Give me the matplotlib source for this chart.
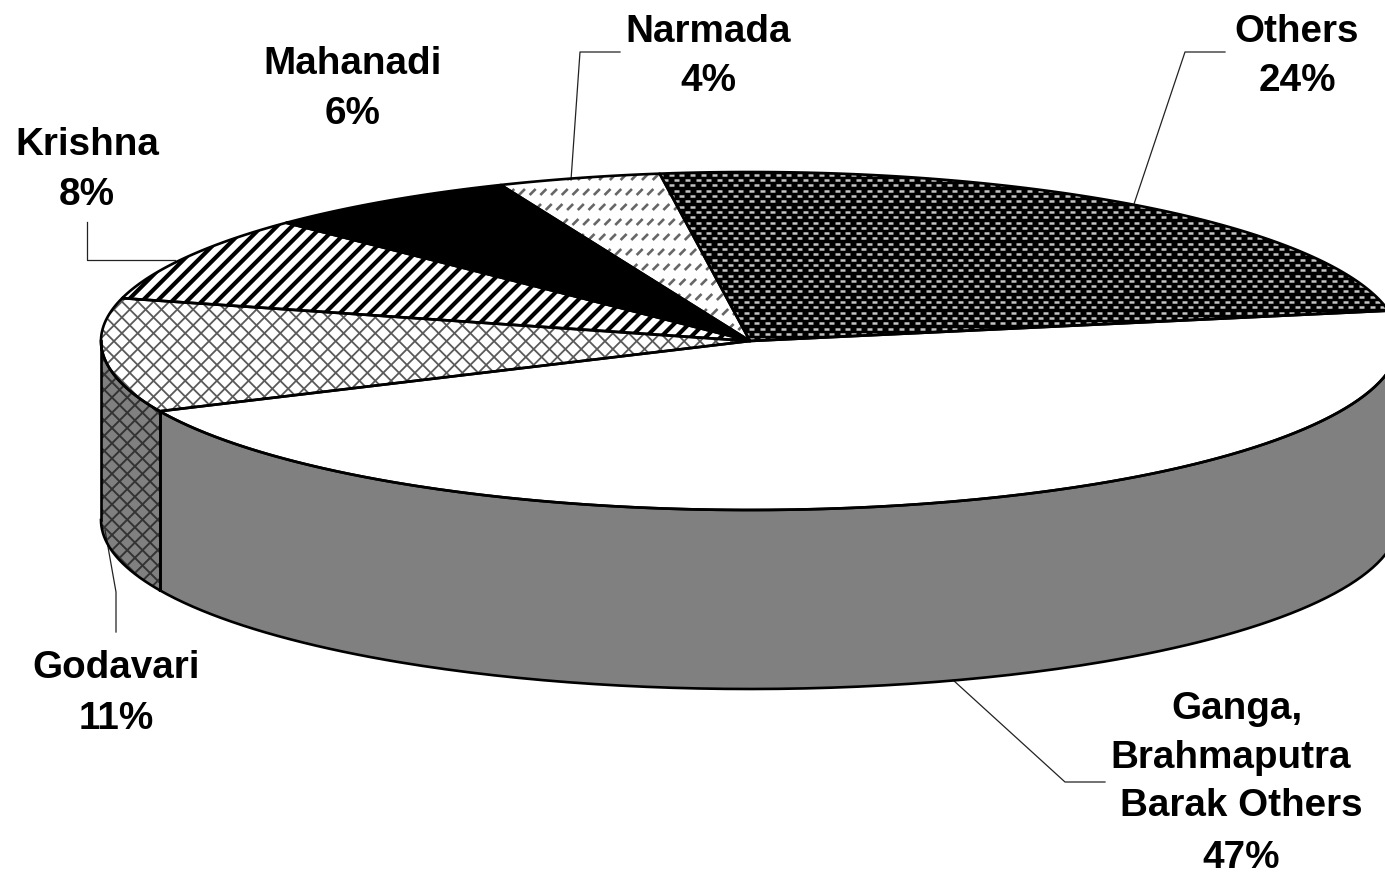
import numpy as np
import matplotlib
matplotlib.use('Agg')
import matplotlib.pyplot as plt
from matplotlib.collections import LineCollection
from matplotlib.patches import Polygon

plt.rcParams['font.family'] = ['Liberation Sans', 'DejaVu Sans']

# data, clockwise from the top of the pie
basins = ['Others', 'Ganga,\nBrahmaputra\n Barak Others', 'Godavari', 'Krishna', 'Mahanadi', 'Narmada']
labels = ['24%', '47%', '11%', '8%', '6%', '4%']
# slice shares as they are drawn in the picture
shares = [24.35, 46.05, 10.9, 8.25, 6.4, 4.05]
start_angle = 98.0

# layout in pixels
cx, cy, rx, ry = 750, 341, 649, 169
depth = 179
GREY = '#808080'

fig = plt.figure(figsize=(13.85, 8.72), dpi=100, facecolor='w')
ax = fig.add_axes([0, 0, 1, 1])
ax.set_xlim(0, 1385)
ax.set_ylim(872, 0)
ax.axis('off')


def rim(t0, t1, drop=0):
    t = np.radians(np.linspace(t0, t1, 200))
    return np.column_stack([cx + rx * np.cos(t), cy - ry * np.sin(t) + drop])


def line_hatch(patch, angle, spacing, lw, color):
    # parallel lines across the whole picture, clipped to the patch
    a = np.radians(angle)
    d = np.array([np.cos(a), -np.sin(a)])
    n = np.array([np.sin(a), np.cos(a)])
    segs = []
    for s in np.arange(-1800, 1800, spacing):
        p = np.array([700, 400]) + n * s
        segs.append([p - d * 1800, p + d * 1800])
    lc = LineCollection(segs, colors=color, linewidths=lw, zorder=2)
    ax.add_collection(lc)
    lc.set_clip_path(patch)


def dash_hatch(patch, dx, dy, run, rise, lw, color):
    # rows of short dashes, every other row shifted
    segs = []
    for j, y in enumerate(np.arange(0, 872, dy)):
        for x in np.arange(0, 1385, dx):
            x0 = x + (dx / 2 if j % 2 else 0)
            segs.append([(x0, y), (x0 + run, y - rise)])
    lc = LineCollection(segs, colors=color, linewidths=lw, capstyle='butt', zorder=2)
    ax.add_collection(lc)
    lc.set_clip_path(patch)


# slice angles from the shares
edges = start_angle - np.cumsum([0] + shares) * 3.6

fills = ['k', 'w', 'w', 'w', 'k', 'w']

# side wall, only the front half of the pie shows it
for i in range(len(shares)):
    t0, t1 = edges[i], edges[i + 1]
    lo, hi = max(t1, -180), min(t0, 0)
    if lo >= hi:
        continue
    top = rim(hi, lo)
    wall = np.vstack([top, rim(lo, hi, depth)])
    side = Polygon(wall, closed=True, fc=GREY, ec='none', zorder=1)
    ax.add_patch(side)
    if basins[i] == 'Godavari':
        line_hatch(side, 45, 10.8, 1.4, '#333333')
        line_hatch(side, -45, 10.8, 1.4, '#333333')
    ax.plot(*top.T, color='k', lw=1.9, zorder=3)
    ax.plot(*rim(lo, hi, depth).T, color='k', lw=1.9, zorder=3)
    for t in (lo, hi):
        p = rim(t, t)[0]
        ax.plot([p[0], p[0]], [p[1], p[1] + depth], color='k', lw=1.9, zorder=3)

# top face
for i in range(len(shares)):
    t0, t1 = edges[i], edges[i + 1]
    verts = np.vstack([[cx, cy], rim(t0, t1)])
    wedge = Polygon(verts, closed=True, fc=fills[i], ec='none', zorder=1)
    ax.add_patch(wedge)
    if basins[i] == 'Others':
        dash_hatch(wedge, 10.7, 5.3, 5, 0, 1.8, '#c4c4c4')
    elif basins[i] == 'Godavari':
        line_hatch(wedge, 45, 11.2, 1.3, '#5a5a5a')
        line_hatch(wedge, -45, 11.2, 1.3, '#5a5a5a')
    elif basins[i] == 'Krishna':
        line_hatch(wedge, 45, 10.6, 3.0, 'k')
    elif basins[i] == 'Narmada':
        dash_hatch(wedge, 10.7, 15, 6, 6, 1.9, '#666666')
    ax.add_patch(Polygon(verts, closed=True, fc='none', ec='k', lw=1.9, zorder=3, joinstyle='round'))

# leader lines
leaders = [
    [(1133, 207), (1185, 52), (1225, 52)],
    [(953, 680), (1065, 782), (1105, 782)],
    [(105, 530), (116, 592), (116, 632)],
    [(175, 260), (87, 260), (87, 222)],
    [(571, 180), (580, 52), (620, 52)],
]
for pts in leaders:
    xs, ys = zip(*pts)
    ax.plot(xs, ys, color='#222222', lw=0.9, zorder=1)

# labels, one text per line, anchored on the baseline
anchors = {
    'Others': [(1297, 42), (1297, 91)],
    'Ganga,\nBrahmaputra\n Barak Others': [(1237, 719), (1231, 768), (1241, 816), (1241, 868)],
    'Godavari': [(116, 678), (116, 729)],
    'Krishna': [(87, 155), (87, 205)],
    'Mahanadi': [(353, 74), (353, 124)],
    'Narmada': [(708, 42), (708, 91)],
}
for name, pct in zip(basins, labels):
    lines = [s.strip() for s in name.split('\n')] + [pct]
    for txt, (x, y) in zip(lines, anchors[name]):
        ax.text(x, y, txt, ha='center', va='baseline', fontsize=27.8, fontweight='bold', color='k')

fig.savefig('out.png', dpi=100, facecolor='w')
